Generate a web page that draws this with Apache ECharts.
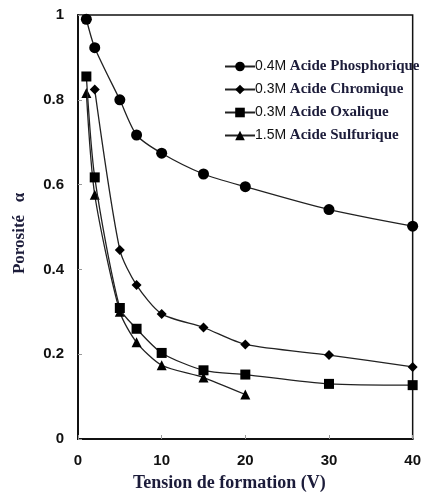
<!DOCTYPE html>
<html><head><meta charset="utf-8">
<script src="https://cdn.jsdelivr.net/npm/echarts@6/dist/echarts.min.js"></script>
<style>html,body{margin:0;padding:0;background:#fff}#c{width:424px;height:497px}</style>
</head><body><div id="c"></div>
<script>
const seriesNames = ['0.4M Acide Phosphorique','0.3M Acide Chromique','0.3M Acide Oxalique','1.5M Acide Sulfurique'];
const phosphorique = [[1,0.99],[2,0.923],[5,0.80],[7,0.717],[10,0.674],[15,0.625],[20,0.595],[30,0.541],[40,0.502]];
const chromique = [[2,0.824],[5,0.446],[7,0.363],[10,0.295],[15,0.263],[20,0.223],[30,0.198],[40,0.170]];
const oxalique = [[1,0.855],[2,0.617],[5,0.309],[7,0.26],[10,0.203],[15,0.162],[20,0.152],[30,0.13],[40,0.127]];
const sulfurique = [[1,0.816],[2,0.576],[5,0.30],[7,0.228],[10,0.174],[15,0.145],[20,0.105]];
const symbols = ['circle','diamond','rect','triangle'];
const symbolSizes = [11,10,10,10];
const xTicks = [0,10,20,30,40];
const yTicks = [0,0.2,0.4,0.6,0.8,1];

const datas = [phosphorique, chromique, oxalique, sulfurique];
const chart = echarts.init(document.getElementById('c'));
const axisLabelStyle = {fontFamily:'Liberation Sans, Arial, sans-serif', fontSize:15, fontWeight:'bold', color:'#111'};
chart.setOption({
  animation:false,
  backgroundColor:'#fff',
  grid:{left:78, right:8, top:15, bottom:55, show:true, borderColor:'#111', borderWidth:1.5},
  legend:{
    orient:'vertical', left:219, top:54, itemGap:8, itemWidth:30, itemHeight:12,
    data: seriesNames,
    formatter: function(n){ const i=n.indexOf(' '); return '{a|'+n.slice(0,i)+'}{b|'+n.slice(i)+'}'; },
    textStyle:{ padding:[0,0,0,-5], rich:{
      a:{fontFamily:'Liberation Sans, Arial, sans-serif', fontSize:14, color:'#111'},
      b:{fontFamily:'Liberation Serif, Times New Roman, serif', fontSize:15, fontWeight:'bold', color:'#1c1c3a'}
    }}
  },
  xAxis:{
    type:'value', min:0, max:40, interval:10,
    name:'Tension de formation (V)', nameLocation:'middle', nameGap:35,
    nameTextStyle:{fontFamily:'Liberation Serif, Times New Roman, serif', fontSize:18, fontWeight:'bold', color:'#1c1c3a', padding:[0,32,0,0]},
    axisLine:{show:true, onZero:false, lineStyle:{color:'#111', width:2}},
    axisTick:{show:true, inside:true, length:4, lineStyle:{color:'#999'}},
    axisLabel:Object.assign({margin:14, formatter:v=>xTicks.includes(v)?String(v):''}, axisLabelStyle),
    splitLine:{show:false}
  },
  yAxis:{
    type:'value', min:0, max:1, interval:0.2,
    name:'Porosité   α   ', nameLocation:'middle', nameGap:50,
    nameTextStyle:{fontFamily:'Liberation Serif, Times New Roman, serif', fontSize:17, fontWeight:'bold', color:'#1c1c3a'},
    axisLine:{show:true, onZero:false, lineStyle:{color:'#111', width:2}},
    axisTick:{show:true, inside:true, length:4, lineStyle:{color:'#999'}},
    axisLabel:Object.assign({margin:14, formatter:v=>{const t=yTicks.find(y=>Math.abs(y-v)<1e-9);return t===undefined?'':String(+t.toFixed(1));}}, axisLabelStyle),
    splitLine:{show:false}
  },
  series: seriesNames.map((n,i)=>({
    name:n, type:'line', data:datas[i], smooth:0.25,
    symbol:symbols[i], symbolSize:symbolSizes[i],
    lineStyle:{color:'#222', width:1.3},
    itemStyle:{color:'#000', borderWidth:0},
    z: 10-i
  }))
});
</script></body></html>
